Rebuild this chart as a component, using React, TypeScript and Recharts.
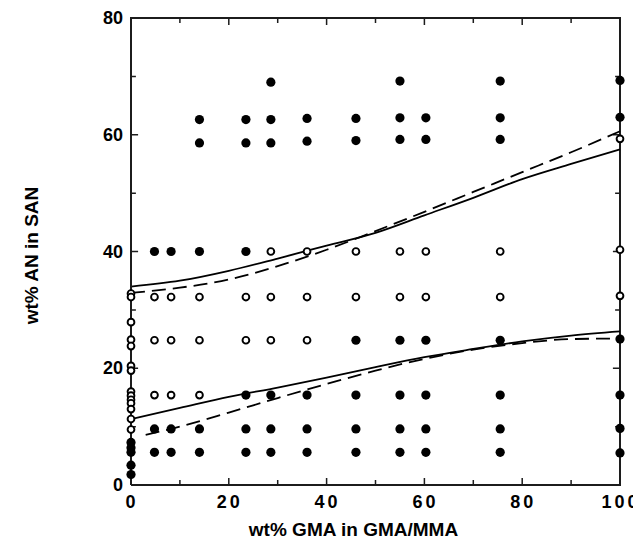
import React from "react";
import {
  ComposedChart,
  Scatter,
  Line,
  XAxis,
  YAxis,
} from "recharts";

// ---- data ----
const xTicks = [0, 10, 20, 30, 40, 50, 60, 70, 80, 90, 100];
const yTicks = [0, 10, 20, 30, 40, 50, 60, 70, 80];

const filledPoints = [
  { x: 0, y: 7.3 }, { x: 0, y: 6.4 }, { x: 0, y: 5.6 }, { x: 0, y: 3.4 }, { x: 0, y: 1.8 },
  { x: 4.8, y: 40 }, { x: 4.8, y: 9.6 }, { x: 4.8, y: 5.6 },
  { x: 8.2, y: 40 }, { x: 8.2, y: 9.6 }, { x: 8.2, y: 5.6 },
  { x: 14, y: 62.6 }, { x: 14, y: 58.6 }, { x: 14, y: 40 }, { x: 14, y: 9.6 }, { x: 14, y: 5.6 },
  { x: 23.5, y: 62.6 }, { x: 23.5, y: 58.6 }, { x: 23.5, y: 40 }, { x: 23.5, y: 15.4 }, { x: 23.5, y: 9.6 }, { x: 23.5, y: 5.6 },
  { x: 28.6, y: 69 }, { x: 28.6, y: 62.6 }, { x: 28.6, y: 58.6 }, { x: 28.6, y: 15.4 }, { x: 28.6, y: 9.6 }, { x: 28.6, y: 5.6 },
  { x: 36, y: 62.8 }, { x: 36, y: 58.9 }, { x: 36, y: 15.4 }, { x: 36, y: 9.6 }, { x: 36, y: 5.6 },
  { x: 46, y: 62.8 }, { x: 46, y: 59 }, { x: 46, y: 24.8 }, { x: 46, y: 15.4 }, { x: 46, y: 9.6 }, { x: 46, y: 5.6 },
  { x: 55, y: 69.2 }, { x: 55, y: 62.9 }, { x: 55, y: 59.2 }, { x: 55, y: 24.8 }, { x: 55, y: 15.4 }, { x: 55, y: 9.6 }, { x: 55, y: 5.6 },
  { x: 60.3, y: 62.9 }, { x: 60.3, y: 59.2 }, { x: 60.3, y: 24.8 }, { x: 60.3, y: 15.4 }, { x: 60.3, y: 9.6 }, { x: 60.3, y: 5.6 },
  { x: 75.5, y: 69.2 }, { x: 75.5, y: 62.9 }, { x: 75.5, y: 59.2 }, { x: 75.5, y: 24.8 }, { x: 75.5, y: 15.4 }, { x: 75.5, y: 9.6 }, { x: 75.5, y: 5.6 },
  { x: 100, y: 69.3 }, { x: 100, y: 63 }, { x: 100, y: 25 }, { x: 100, y: 15.4 }, { x: 100, y: 9.7 }, { x: 100, y: 5.5 },
];

const openPoints = [
  { x: 0, y: 32.8 }, { x: 0, y: 32.2 }, { x: 0, y: 27.9 }, { x: 0, y: 24.9 }, { x: 0, y: 23.8 },
  { x: 0, y: 20.4 }, { x: 0, y: 19.6 }, { x: 0, y: 16.0 }, { x: 0, y: 15.3 }, { x: 0, y: 14.6 },
  { x: 0, y: 14.0 }, { x: 0, y: 13.0 }, { x: 0, y: 11.3 }, { x: 0, y: 9.5 },
  { x: 4.8, y: 32.2 }, { x: 4.8, y: 24.8 }, { x: 4.8, y: 15.4 },
  { x: 8.2, y: 32.2 }, { x: 8.2, y: 24.8 }, { x: 8.2, y: 15.4 },
  { x: 14, y: 32.2 }, { x: 14, y: 24.8 }, { x: 14, y: 15.4 },
  { x: 23.5, y: 32.2 }, { x: 23.5, y: 24.8 },
  { x: 28.6, y: 40 }, { x: 28.6, y: 32.2 }, { x: 28.6, y: 24.8 },
  { x: 36, y: 40 }, { x: 36, y: 32.2 }, { x: 36, y: 24.8 },
  { x: 46, y: 40 }, { x: 46, y: 32.2 },
  { x: 55, y: 40 }, { x: 55, y: 32.2 },
  { x: 60.3, y: 40 }, { x: 60.3, y: 32.2 },
  { x: 75.5, y: 40 }, { x: 75.5, y: 32.2 },
  { x: 100, y: 59.3 }, { x: 100, y: 40.3 }, { x: 100, y: 32.4 },
];

const upperSolid = [
  { x: 0, y: 34 }, { x: 10, y: 35 }, { x: 20, y: 36.7 }, { x: 30, y: 38.8 }, { x: 40, y: 41 },
  { x: 50, y: 43.2 }, { x: 60, y: 46.2 }, { x: 70, y: 49.2 }, { x: 80, y: 52.4 }, { x: 90, y: 55 }, { x: 100, y: 57.5 },
];
const upperDashed = [
  { x: 0, y: 32.9 }, { x: 10, y: 33.8 }, { x: 20, y: 35.2 }, { x: 30, y: 37.5 }, { x: 40, y: 40.3 },
  { x: 50, y: 43.5 }, { x: 60, y: 46.8 }, { x: 70, y: 50.2 }, { x: 80, y: 53.6 }, { x: 90, y: 57 }, { x: 100, y: 60.6 },
];
const lowerSolid = [
  { x: 0, y: 11.3 }, { x: 10, y: 13.2 }, { x: 20, y: 15.1 }, { x: 30, y: 16.7 }, { x: 40, y: 18.4 },
  { x: 50, y: 20.2 }, { x: 60, y: 21.9 }, { x: 70, y: 23.3 }, { x: 80, y: 24.6 }, { x: 90, y: 25.6 }, { x: 100, y: 26.3 },
];
const lowerDashed = [
  { x: 3, y: 8.6 }, { x: 10, y: 10 }, { x: 20, y: 12.4 }, { x: 30, y: 14.9 }, { x: 40, y: 17.3 },
  { x: 50, y: 19.6 }, { x: 60, y: 21.6 }, { x: 70, y: 23.2 }, { x: 80, y: 24.3 }, { x: 90, y: 25 }, { x: 100, y: 25.1 },
];

const X_MIN = 0, X_MAX = 100, Y_MIN = 0, Y_MAX = 80;
const FONT = "'Liberation Sans', Arial, Helvetica, sans-serif";
const FRAME = "#1c1c1c";
const isMajor = (v: number) => v % 20 === 0;

// frame box around the plot, from the axis domains
const frameBox = [
  { x: X_MIN, y: Y_MIN }, { x: X_MAX, y: Y_MIN }, { x: X_MAX, y: Y_MAX }, { x: X_MIN, y: Y_MAX }, { x: X_MIN, y: Y_MIN },
];

// inward tick marks (axis units), split by null gaps
const xTickLen = (v: number) => (isMajor(v) ? 1.45 : 1.0);
const yTickLen = (v: number) => (isMajor(v) ? 1.2 : 0.85);
const tickMarks: { x: number; y: number | null }[] = [];
xTicks.forEach((v) => {
  tickMarks.push({ x: v, y: Y_MIN }, { x: v, y: Y_MIN + yTickLen(v) }, { x: v, y: null });
  tickMarks.push({ x: v, y: Y_MAX }, { x: v, y: Y_MAX - yTickLen(v) }, { x: v, y: null });
});
yTicks.forEach((v) => {
  tickMarks.push({ x: X_MIN, y: v }, { x: X_MIN + xTickLen(v), y: v }, { x: X_MIN + xTickLen(v), y: null });
  tickMarks.push({ x: X_MAX, y: v }, { x: X_MAX - xTickLen(v), y: v }, { x: X_MAX - xTickLen(v), y: null });
});

const BottomTick = (props: any) => {
  const { x, y, payload } = props;
  if (!isMajor(payload.value)) return <g />;
  return (
    <text x={x + 1} y={y + 23} textAnchor="middle" fontFamily={FONT} fontWeight="bold" fontSize={18} fill="#000" style={{ letterSpacing: 3 }}>
      {payload.value}
    </text>
  );
};

const LeftTick = (props: any) => {
  const { x, y, payload } = props;
  if (!isMajor(payload.value)) return <g />;
  return (
    <text x={x - 8} y={y + 6} textAnchor="end" fontFamily={FONT} fontWeight="bold" fontSize={18} fill="#000">
      {payload.value}
    </text>
  );
};

const FilledDot = (props: any) => <circle cx={props.cx} cy={props.cy} r={4.6} fill="#000" />;
const OpenDot = (props: any) => (
  <circle cx={props.cx} cy={props.cy} r={3.4} fill="#fff" stroke="#000" strokeWidth={1.9} />
);

export default function App() {
  const ax = { xAxisId: "bottom", yAxisId: "left" };
  return (
    <div style={{ width: 633, height: 540 }}>
      <ComposedChart width={633} height={540} margin={{ top: 10, right: 21, bottom: 0, left: 0 }}>
        <XAxis
          xAxisId="bottom"
          type="number"
          dataKey="x"
          domain={[X_MIN, X_MAX]}
          ticks={xTicks}
          interval={0}
          height={63}
          tickSize={0}
          tickMargin={0}
          tickLine={false}
          stroke={FRAME}
          strokeWidth={2}
          tick={<BottomTick />}
          label={{
            content: (p: any) => {
              const vb = p.viewBox;
              return (
                <text x={vb.x + vb.width / 2 - 22} y={vb.y + 51} textAnchor="middle" fontFamily={FONT} fontWeight="bold" fontSize={19} fill="#000">
                  wt% GMA in GMA/MMA
                </text>
              );
            },
          }}
        />
        <YAxis
          yAxisId="left"
          type="number"
          domain={[Y_MIN, Y_MAX]}
          ticks={yTicks}
          interval={0}
          width={123}
          tickSize={0}
          tickMargin={0}
          tickLine={false}
          stroke={FRAME}
          strokeWidth={2}
          tick={<LeftTick />}
          label={{
            content: (p: any) => {
              const vb = p.viewBox;
              const cx = vb.x + 30;
              const cy = vb.y + vb.height / 2 + 4;
              return (
                <text x={cx} y={cy} transform={`rotate(-90 ${cx} ${cy})`} textAnchor="middle" fontFamily={FONT} fontWeight="bold" fontSize={19} fill="#000">
                  wt% AN in SAN
                </text>
              );
            },
          }}
        />

        <Line {...ax} data={frameBox} dataKey="y" type="linear" stroke={FRAME} strokeWidth={2} dot={false} isAnimationActive={false} />
        <Line {...ax} data={tickMarks} dataKey="y" type="linear" stroke={FRAME} strokeWidth={1.5} dot={false} isAnimationActive={false} />

        <Line {...ax} data={upperSolid} dataKey="y" type="monotone" stroke="#000" strokeWidth={1.8} dot={false} isAnimationActive={false} />
        <Line {...ax} data={upperDashed} dataKey="y" type="monotone" stroke="#000" strokeWidth={1.8} strokeDasharray="14 7" dot={false} isAnimationActive={false} />
        <Line {...ax} data={lowerSolid} dataKey="y" type="monotone" stroke="#000" strokeWidth={1.8} dot={false} isAnimationActive={false} />
        <Line {...ax} data={lowerDashed} dataKey="y" type="monotone" stroke="#000" strokeWidth={1.8} strokeDasharray="14 7" dot={false} isAnimationActive={false} />
        <Scatter {...ax} data={openPoints} dataKey="y" shape={<OpenDot />} isAnimationActive={false} />
        <Scatter {...ax} data={filledPoints} dataKey="y" shape={<FilledDot />} isAnimationActive={false} />
      </ComposedChart>
    </div>
  );
}
